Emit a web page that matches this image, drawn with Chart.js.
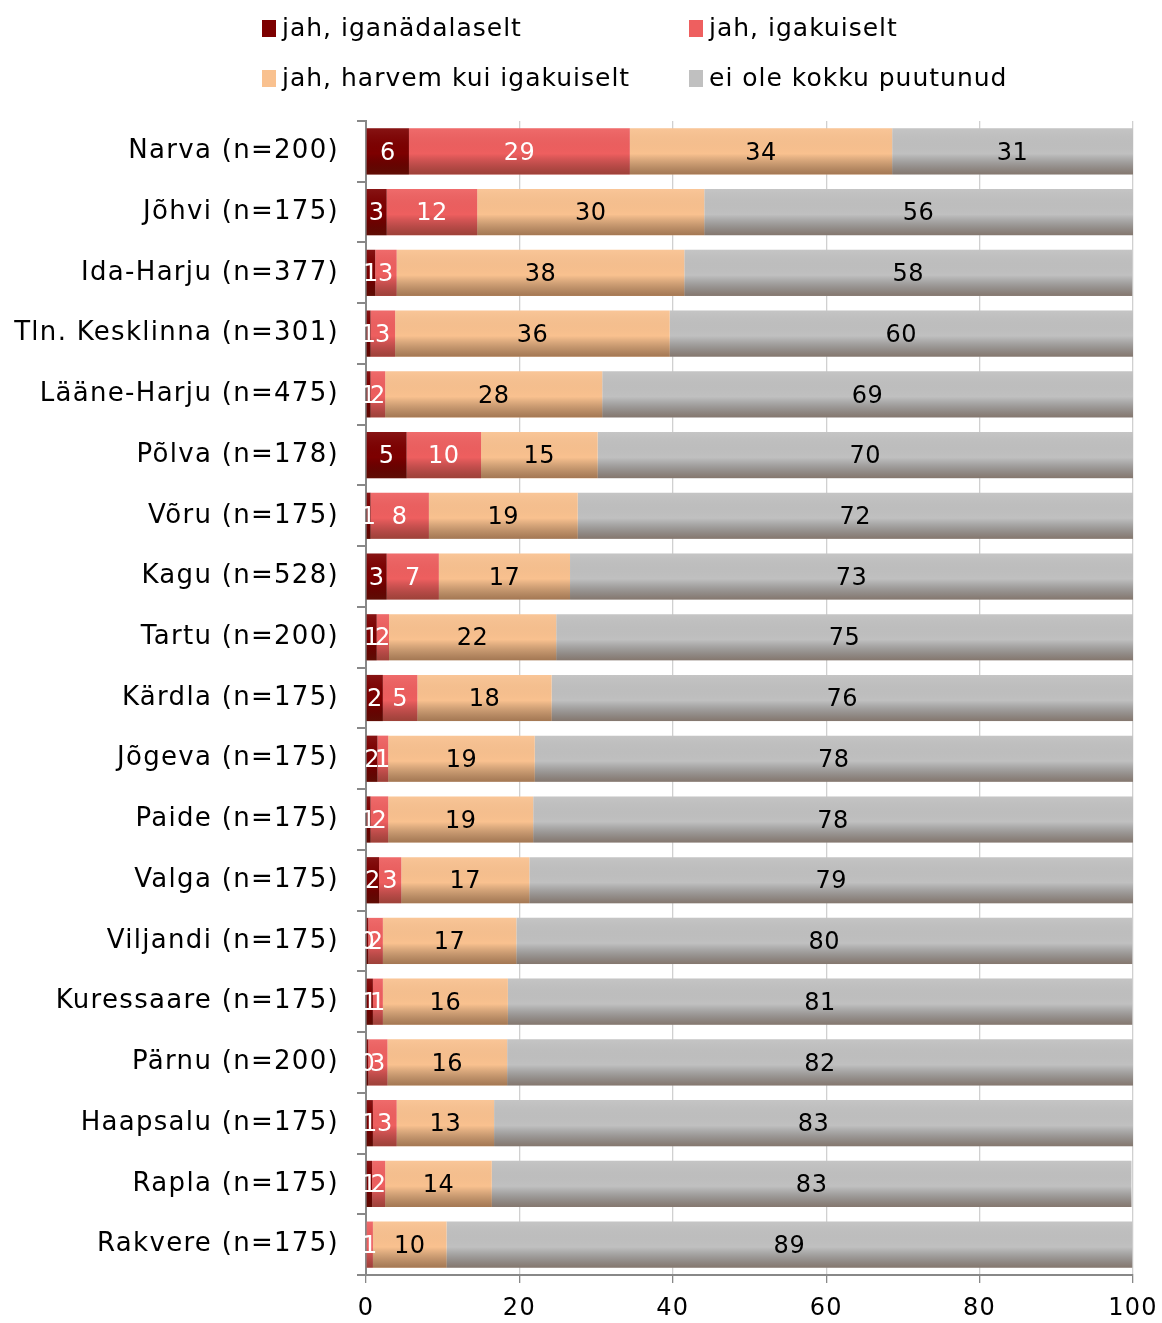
<!DOCTYPE html>
<html>
<head>
<meta charset="utf-8">
<script src="https://cdn.jsdelivr.net/npm/chart.js@4.4.0/dist/chart.umd.min.js"></script>
<style>
    body { margin: 0; background: #fff; }
    #wrap { position: relative; width: 1162px; height: 1323px; }
    #legend { position: absolute; left: 262px; top: 13px; font-family: "DejaVu Sans", Verdana, sans-serif; font-size: 25px; letter-spacing: 1px; color: #000; }
    .item { position: absolute; white-space: nowrap; }
    .box { display: inline-block; width: 14px; height: 17px; margin-right: 6px; vertical-align: -1px; }
</style>
</head>
<body>
<div id="wrap">
    <canvas id="chart" width="1162" height="1323"></canvas>
    <div id="legend"></div>
</div>
<script>
    "use strict";

    // Kategooriad
    var regions = ["Narva (n=200)", "Jõhvi (n=175)", "Ida-Harju (n=377)", "Tln. Kesklinna (n=301)",
        "Lääne-Harju (n=475)", "Põlva (n=178)", "Võru (n=175)", "Kagu (n=528)", "Tartu (n=200)",
        "Kärdla (n=175)", "Jõgeva (n=175)", "Paide (n=175)", "Valga (n=175)", "Viljandi (n=175)",
        "Kuressaare (n=175)", "Pärnu (n=200)", "Haapsalu (n=175)", "Rapla (n=175)", "Rakvere (n=175)"];

    var seriesNames = ["jah, iganädalaselt", "jah, igakuiselt", "jah, harvem kui igakuiselt", "ei ole kokku puutunud"];

    // Osakaalud (%)
    var weekly  = [5.6, 2.7, 1.2, 0.6, 0.6, 5.3, 0.6, 2.7, 1.4, 2.2, 1.5, 0.6, 1.7, 0.3, 0.9, 0.3, 0.9, 0.8, 0];
    var monthly = [28.8, 11.8, 2.8, 3.2, 1.9, 9.7, 7.6, 6.8, 1.6, 4.5, 1.4, 2.3, 2.9, 1.9, 1.3, 2.5, 3.1, 1.7, 0.9];
    var rarely  = [34.2, 29.6, 37.5, 35.8, 28.3, 15.2, 19.4, 17.1, 21.8, 17.5, 19.1, 18.9, 16.7, 17.4, 16.3, 15.6, 12.7, 13.9, 9.6];
    var never   = [31.4, 55.9, 58.4, 60.4, 69.2, 69.8, 72.4, 73.4, 75.2, 75.8, 78.0, 78.2, 78.7, 80.3, 81.4, 81.6, 83.3, 83.4, 89.4];

    var xTicks = [0, 20, 40, 60, 80, 100];

    var colors = ["#7d0000", "#ee5f5f", "#f9c18f", "#c0c0c0"];
    var labelColors = ["#fff", "#fff", "#000", "#000"];
    var font = "'DejaVu Sans', Verdana, sans-serif";

    // Legend (HTML, kahes veerus)
    var legend = document.getElementById('legend');
    seriesNames.forEach(function (name, i) {
        var div = document.createElement('div');
        div.className = 'item';
        div.style.left = (i % 2 === 0 ? 0 : 427) + 'px';
        div.style.top = (i < 2 ? 0 : 50) + 'px';
        div.innerHTML = '<span class="box" style="background:' + colors[i] + '"></span>' + name;
        legend.appendChild(div);
    });

    // Verdana-laadne tähevahe
    var spacing = {
        id: 'spacing',
        beforeUpdate: function (chart) { chart.ctx.letterSpacing = '1.3px'; },
        beforeDraw: function (chart) { chart.ctx.letterSpacing = '1.3px'; }
    };

    // Varjutus ja väärtused ribadel
    var barLabels = {
        id: 'barLabels',
        afterDatasetsDraw: function (chart) {
            var ctx = chart.ctx;
            ctx.save();
            chart.data.datasets.forEach(function (ds, di) {
                var meta = chart.getDatasetMeta(di);
                meta.data.forEach(function (bar, i) {
                    var v = ds.data[i];
                    if (!v) return;
                    var top = bar.y - bar.height / 2;
                    var h = bar.height;
                    var left = Math.min(bar.x, bar.base);
                    var w = Math.abs(bar.x - bar.base);
                    var g = ctx.createLinearGradient(0, top, 0, top + h);
                    g.addColorStop(0, 'rgba(255,255,255,0.08)');
                    g.addColorStop(0.55, 'rgba(0,0,0,0)');
                    g.addColorStop(1, 'rgba(60,30,10,0.45)');
                    ctx.fillStyle = g;
                    ctx.fillRect(left, top, w, h);
                });
            });
            ctx.letterSpacing = '0.5px';
            ctx.font = '24px ' + font;
            ctx.textAlign = 'center';
            ctx.textBaseline = 'middle';
            chart.data.datasets.forEach(function (ds, di) {
                var meta = chart.getDatasetMeta(di);
                meta.data.forEach(function (bar, i) {
                    var v = ds.data[i];
                    if (!v) return;
                    ctx.fillStyle = labelColors[di];
                    ctx.fillText(Math.round(v), (bar.x + bar.base) / 2, bar.y + 2);
                });
            });
            ctx.restore();
        }
    };

    var ctx1 = document.getElementById('chart').getContext('2d');
    var myChart = new Chart(ctx1, {
        type: 'bar',
        data: {
            labels: regions,
            datasets: [weekly, monthly, rarely, never].map(function (d, i) {
                return {
                    label: seriesNames[i],
                    data: d,
                    backgroundColor: colors[i],
                    borderWidth: 0,
                    barPercentage: 0.76,
                    categoryPercentage: 1
                };
            })
        },
        options: {
            indexAxis: 'y',
            responsive: false,
            animation: false,
            layout: { padding: { top: 121, right: 29, left: 8, bottom: 0 } },
            plugins: {
                legend: { display: false },
                tooltip: { enabled: false }
            },
            scales: {
                x: {
                    stacked: true,
                    min: 0,
                    max: 100,
                    afterBuildTicks: function (axis) {
                        axis.ticks = xTicks.map(function (v) { return { value: v }; });
                    },
                    afterFit: function (axis) {
                        axis.height = 48;
                        axis.paddingLeft = 0;
                        axis.paddingRight = 0;
                    },
                    grid: { color: '#d0d0d0', tickColor: '#888', tickLength: 8, lineWidth: 1.3 },
                    border: { color: '#888', width: 2 },
                    ticks: { color: '#000', font: { family: font, size: 24, lineHeight: 1 }, padding: 14 }
                },
                y: {
                    stacked: true,
                    afterFit: function (axis) { axis.width = 358; },
                    grid: { drawOnChartArea: false, offset: true, tickColor: '#888', tickLength: 9, lineWidth: 2 },
                    border: { color: '#888', width: 2 },
                    ticks: { color: '#000', font: { family: font, size: 26 }, padding: 18 }
                }
            }
        },
        plugins: [spacing, barLabels]
    });
</script>
</body>
</html>
